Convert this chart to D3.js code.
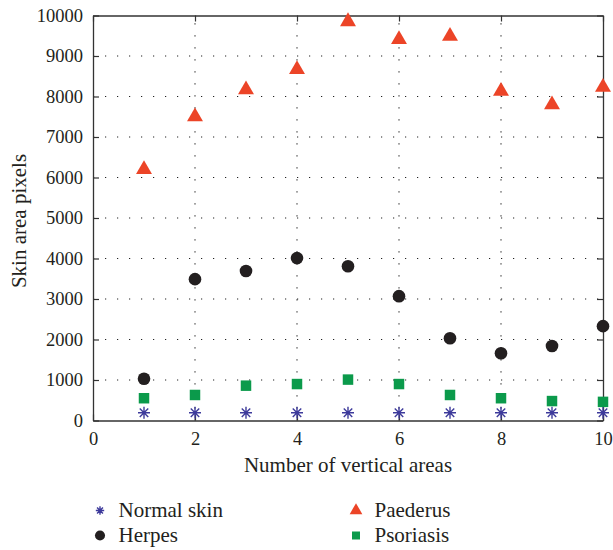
<!DOCTYPE html>
<html>
<head>
<meta charset="utf-8">
<script src="https://cdn.jsdelivr.net/npm/d3@7"></script>
<style>
  body { margin: 0; background: #fff; }
  svg { display: block; }
  text { font-family: "Liberation Serif", "DejaVu Serif", serif; fill: #231f20; }
</style>
</head>
<body>
<svg id="chart" width="613" height="550"></svg>
<script>
// Measurements per vertical area
const areas = [1, 2, 3, 4, 5, 6, 7, 8, 9, 10];
const normalSkin = [190, 190, 190, 190, 190, 190, 190, 190, 190, 190];
const herpes = [1030, 3490, 3690, 4010, 3810, 3070, 2030, 1660, 1840, 2330];
const paederus = [6200, 7500, 8170, 8670, 9850, 9410, 9490, 8130, 7800, 8230];
const psoriasis = [550, 630, 860, 900, 1010, 900, 630, 550, 480, 460];

const xTicks = [0, 2, 4, 6, 8, 10];
const yTicks = [0, 1000, 2000, 3000, 4000, 5000, 6000, 7000, 8000, 9000, 10000];

const svg = d3.select("#chart");
const margin = { left: 93, top: 15.5, right: 10, bottom: 129.5 };
const W = 613 - margin.left - margin.right;
const H = 550 - margin.top - margin.bottom;

const x = d3.scaleLinear().domain([0, 10]).range([0, W]);
const y = d3.scaleLinear().domain([0, 10000]).range([H, 0]);

const g = svg.append("g").attr("transform", `translate(${margin.left},${margin.top})`);

// dotted grid at interior ticks
const grid = g.append("g").attr("stroke", "#222").attr("stroke-width", 1.1)
  .attr("stroke-dasharray", "1.2,10.8");
grid.selectAll("line.gx").data(xTicks.filter(d => d > 0 && d < 10)).join("line")
  .attr("x1", d => x(d)).attr("x2", d => x(d))
  .attr("y1", H).attr("y2", 0);
grid.selectAll("line.gy").data(yTicks.filter(d => d > 0 && d < 10000)).join("line")
  .attr("y1", d => y(d)).attr("y2", d => y(d))
  .attr("x1", 0).attr("x2", W);

// box axes with inward ticks
const tick = 6;
const fmt = d3.format("d");
function styleAxis(sel) {
  sel.attr("font-family", null).attr("font-size", null);
  sel.selectAll("path.domain").attr("stroke", "#333").attr("stroke-width", 1.3);
  sel.selectAll(".tick line").attr("stroke", "#333").attr("stroke-width", 1.2);
  sel.selectAll(".tick text").style("font-family", '"Liberation Serif", serif')
    .style("font-size", "18.5px").attr("fill", "#231f20");
}
g.append("g").attr("transform", `translate(0,${H})`)
  .call(d3.axisBottom(x).tickValues(xTicks).tickFormat(fmt).tickSizeInner(-tick).tickSizeOuter(0).tickPadding(11))
  .call(styleAxis);
g.append("g")
  .call(d3.axisLeft(y).tickValues(yTicks).tickFormat(fmt).tickSizeInner(-tick).tickSizeOuter(0).tickPadding(10))
  .call(styleAxis);
g.append("g")
  .call(d3.axisTop(x).tickValues(xTicks).tickSizeInner(-tick).tickSizeOuter(0).tickFormat(""))
  .call(styleAxis);
g.append("g").attr("transform", `translate(${W},0)`)
  .call(d3.axisRight(y).tickValues(yTicks).tickSizeInner(-tick).tickSizeOuter(0).tickFormat(""))
  .call(styleAxis);

// axis titles
svg.append("text").attr("x", margin.left + W / 2).attr("y", 472)
  .attr("text-anchor", "middle").style("font-size", "21px")
  .text("Number of vertical areas");
svg.append("text").attr("transform", `translate(26,221) rotate(-90)`)
  .attr("text-anchor", "middle").style("font-size", "21px")
  .text("Skin area pixels");

// eight-armed star marker
const starSymbol = {
  draw(ctx, size) {
    const r = Math.sqrt(size) / 2;
    const d = r * Math.SQRT1_2;
    ctx.moveTo(0, -r); ctx.lineTo(0, r);
    ctx.moveTo(-r, 0); ctx.lineTo(r, 0);
    ctx.moveTo(-d, -d); ctx.lineTo(d, d);
    ctx.moveTo(-d, d); ctx.lineTo(d, -d);
  }
};

const series = [
  { name: "Normal skin", values: normalSkin, type: starSymbol, size: 144, legendSize: 70, fill: "none", stroke: "#3d3a9b", sw: 1.4 },
  { name: "Herpes", values: herpes, type: d3.symbolCircle, size: 125, legendSize: 80, fill: "#231f20", stroke: "none", sw: 0 },
  { name: "Paederus", values: paederus, type: d3.symbolTriangle, size: 110, legendSize: 70, fill: "#ec4427", stroke: "none", sw: 0 },
  { name: "Psoriasis", values: psoriasis, type: d3.symbolSquare, size: 110, legendSize: 64, fill: "#0b9a4b", stroke: "none", sw: 0 }
];

series.forEach(s => {
  const sym = d3.symbol().type(s.type).size(s.size);
  g.append("g").selectAll("path").data(areas).join("path")
    .attr("transform", (d, i) => `translate(${x(d)},${y(s.values[i])})`)
    .attr("d", sym)
    .attr("fill", s.fill).attr("stroke", s.stroke).attr("stroke-width", s.sw);
});

// legend in two columns
const legendPos = [
  { mx: 100, ty: 517 }, { mx: 100, ty: 542 },
  { mx: 356, ty: 517 }, { mx: 356, ty: 542 }
];
series.forEach((s, i) => {
  const p = legendPos[i];
  const sym = d3.symbol().type(s.type).size(s.legendSize);
  svg.append("path").attr("transform", `translate(${p.mx},${p.ty - 6.5})`)
    .attr("d", sym).attr("fill", s.fill).attr("stroke", s.stroke).attr("stroke-width", s.sw);
  svg.append("text").attr("x", p.mx + 18.5).attr("y", p.ty)
    .style("font-size", "21px").text(s.name);
});
</script>
</body>
</html>
